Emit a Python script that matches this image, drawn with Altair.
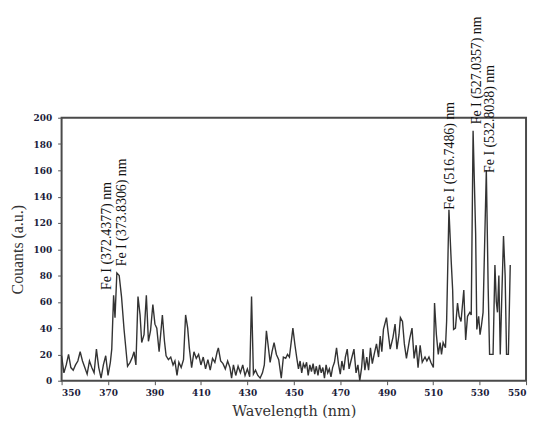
import altair as alt
import pandas as pd

wavelength = [
    350, 351, 352, 353, 354, 355, 356, 357, 358, 359, 360, 361, 362, 363, 364, 365, 366, 367, 368, 369,
    370, 371, 371.6, 372.4, 373, 373.8, 374.8, 375.8, 376.9, 378.4, 379.5, 380.5, 381.2, 382, 382.9,
    383.8, 384.5, 385.5, 386.5, 387.4, 388.3, 389.3, 390.2, 391, 392, 393.4, 394.3, 395, 396, 397, 398,
    398.8, 399.7, 400.5, 401.5, 402.5, 403.4, 404.3, 405, 406, 407, 408, 409, 410, 411, 412, 413, 414,
    415, 416, 417, 417.5, 418.5, 419.5, 420.5, 421.5, 422.5, 423.2, 424, 425, 426, 427, 428, 429, 430,
    431, 431.8, 432.6, 433.5, 434.5, 435.5, 436.5, 437.3, 438.2, 439, 439.8, 440.6, 441.5, 442.5, 443.5,
    444.6, 445.5, 446.5, 447.3, 448.1, 449.6, 450.5, 451.3, 452, 452.7, 453.4, 454.1, 454.8, 455.5,
    456.2, 456.9, 457.6, 458.3, 459, 459.7, 460.4, 461.1, 461.8, 462.5, 463.2, 463.9, 464.6, 465.3,
    466, 466.7, 467.5, 468.4, 469.2, 470, 470.7, 471.5, 472.2, 473, 473.8, 474.6, 475.9, 476.8, 477.6,
    478.4, 479.2, 479.8, 480.6, 481.4, 482.2, 483, 483.8, 484.6, 485.6, 486.5, 487.2, 487.9, 488.6,
    489.9, 490.6, 491.5, 492.7, 493.6, 494.4, 495.3, 495.9, 496.8, 497.6, 498.5, 499.9, 500.9, 501.8,
    502.7, 503.5, 504.4, 505.3, 506.5, 507.3, 508.2, 509, 510.1, 510.6, 511.4, 512.2, 513, 513.6, 514.3,
    515.3, 515.8, 516.8, 517.8, 518.4, 518.8, 519.6, 520.5, 521.2, 522, 523.2, 524, 524.8, 525.8, 526.4,
    527.2, 528.3, 528.8, 529.6, 530.2, 530.8, 531.5, 532.9, 533.7, 534.3, 535.8, 536.6, 537.2, 537.7,
    538.3, 538.9, 539.5, 540.3, 541, 541.6, 542.4, 543.2,
]
counts = [
    19, 6, 12, 20, 10, 8, 12, 15, 22, 15, 10, 5, 15, 10, 6, 24, 10, 2, 12, 19,
    4, 14, 24, 65, 48, 82, 80, 64, 39, 11, 14, 18, 22, 12, 64,
    50, 29, 35, 65, 30, 38, 58, 43, 40, 22, 50, 30, 19, 16, 18, 12,
    15, 4, 14, 10, 16, 50, 40, 25, 10, 22, 17, 20, 12, 18, 9, 16, 8,
    17, 14, 22, 25, 15, 13, 9, 15, 10, 2, 12, 4, 11, 6, 12, 4, 9,
    3, 64, 5, 8, 4, 2, 6, 12, 38, 26, 14, 22, 29, 20, 16,
    2, 18, 17, 20, 18, 40, 27, 17, 9, 15, 6, 13, 10, 14,
    4, 12, 7, 13, 5, 11, 4, 12, 6, 10, 2, 12, 6, 9,
    3, 10, 14, 25, 13, 5, 15, 8, 18, 24, 9, 15, 24, 6, 12,
    0, 10, 24, 8, 18, 8, 25, 13, 20, 28, 18, 34, 22, 39,
    48, 37, 24, 33, 43, 24, 35, 48, 45, 28, 17, 32, 40, 17,
    27, 10, 27, 14, 18, 15, 18, 14, 10, 59, 35, 20, 29, 20, 29,
    25, 45, 130, 90, 69, 39, 40, 59, 49, 45, 69, 31, 49, 52, 50,
    190, 112, 39, 49, 35, 42, 52, 160, 70, 20, 20, 88, 60, 52,
    80, 20, 60, 110, 80, 20, 20, 88,
]

label_text = [
    "Fe I (372.4377) nm",
    "Fe I (373.8306) nm",
    "Fe I (516.7486) nm",
    "Fe I (527.0357) nm",
    "Fe I (532.8038) nm",
]
label_wl = [369.7, 376.0, 517.3, 528.9, 534.6]
label_y = [69, 87, 130, 195, 158]

x_ticks = [350, 370, 390, 410, 430, 450, 470, 490, 510, 530, 550]
y_ticks = [0, 20, 40, 60, 80, 100, 120, 140, 160, 180, 200]

spec_df = pd.DataFrame({"wl": wavelength, "counts": counts})
lab_df = pd.DataFrame({"label": label_text, "wl": label_wl, "y": label_y})

x_scale = alt.Scale(domain=[350, 550], nice=False, zero=False)
y_scale = alt.Scale(domain=[0, 200], nice=False)

x_axis = alt.Axis(
    values=x_ticks,
    title="Wavelength (nm)",
    grid=False,
    domain=False,
    labelOverlap=False,
    tickColor="#555",
    tickSize=4,
    labelPadding=4,
    labelFont="DejaVu Serif",
    labelFontWeight="bold",
    labelFontSize=9,
    labelColor="#1c1c3a",
    titleFont="DejaVu Serif",
    titleFontSize=14.5,
    titleFontWeight="normal",
    titleColor="#333",
    titlePadding=7,
)
y_axis = alt.Axis(
    values=y_ticks,
    title="Couants (a.u.)",
    grid=False,
    domain=False,
    labelOverlap=False,
    tickCount=11,
    tickColor="#555",
    tickSize=4,
    labelPadding=6,
    labelFont="DejaVu Serif",
    labelFontWeight="bold",
    labelFontSize=9,
    labelColor="#1c1c3a",
    titleFont="Liberation Serif",
    titleFontSize=16,
    titleFontWeight="normal",
    titleColor="#333",
    titlePadding=8,
)

line = alt.Chart(spec_df).mark_line(color="#333333", strokeWidth=1.4).encode(
    x=alt.X("wl:Q", scale=x_scale, axis=x_axis),
    y=alt.Y("counts:Q", scale=y_scale, axis=y_axis),
)

labels = alt.Chart(lab_df).mark_text(
    angle=270,
    align="left",
    baseline="middle",
    font="Liberation Serif",
    fontSize=14,
    color="#111",
).encode(
    x=alt.X("wl:Q", scale=x_scale, axis=x_axis),
    y=alt.Y("y:Q", scale=y_scale, axis=y_axis),
    text="label:N",
)

chart = (
    alt.layer(line, labels)
    .properties(
        width=468,
        height=265,
        background="white",
        autosize=alt.AutoSizeParams(type="none"),
        padding={"left": 54, "top": 109, "right": 5, "bottom": 36},
    )
    .configure_view(stroke="#4a4a4a", strokeWidth=2)
)

chart.save("out.html", embed_options={"renderer": "svg", "actions": False})
